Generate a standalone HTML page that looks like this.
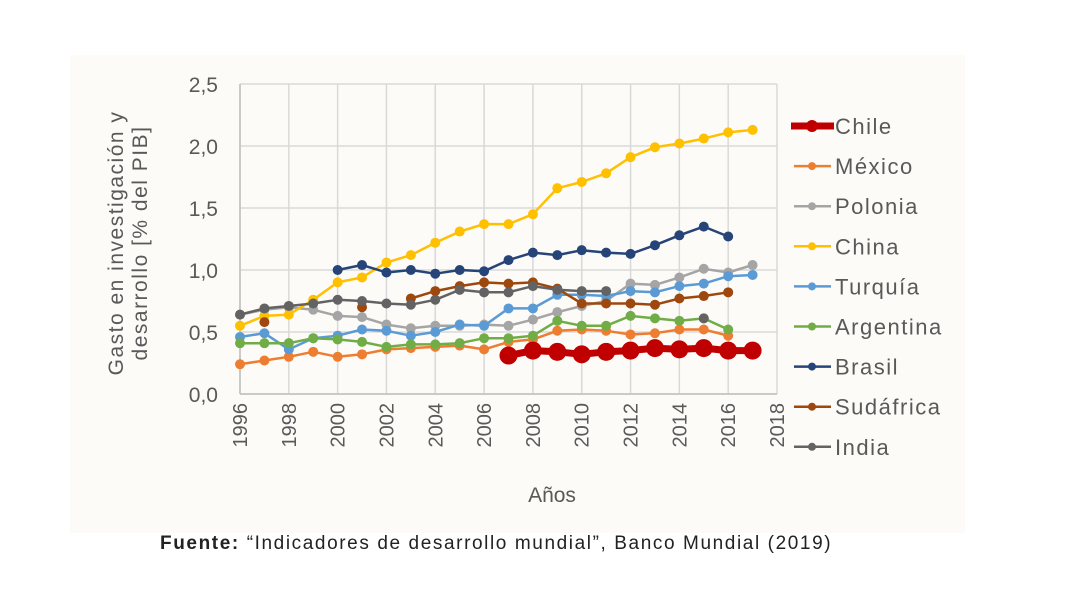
<!DOCTYPE html>
<html><head><meta charset="utf-8">
<style>
html,body{margin:0;padding:0;background:#fff;}
body{width:1080px;height:598px;overflow:hidden;position:relative;font-family:"Liberation Sans",sans-serif;}
#panel{position:absolute;left:70px;top:55px;width:895px;height:478px;background:#fcfbf8;}
</style></head><body>
<div id="panel"></div>
<svg id="chart" width="1080" height="598" style="position:absolute;left:0;top:0"></svg>
<div style="position:absolute;left:160px;top:533px;font-size:19px;letter-spacing:1.6px;color:#222;white-space:nowrap"><b>Fuente:</b> “Indicadores de desarrollo mundial”, Banco Mundial (2019)</div>
<script>
const years = [1996,1997,1998,1999,2000,2001,2002,2003,2004,2005,2006,2007,2008,2009,2010,2011,2012,2013,2014,2015,2016,2017];
const seriesNames = ["México","Polonia","China","Turquía","Argentina","Brasil","Sudáfrica","India","Chile"];
const mexico   = [0.24,0.27,0.30,0.34,0.30,0.32,0.36,0.37,0.38,0.39,0.36,0.42,0.44,0.51,0.52,0.51,0.48,0.49,0.52,0.52,0.47,null];
const polonia  = [0.64,0.68,0.70,0.68,0.63,0.62,0.56,0.53,0.55,0.55,0.56,0.55,0.60,0.66,0.71,0.75,0.89,0.88,0.94,1.01,0.98,1.04];
const china    = [0.55,0.63,0.64,0.76,0.90,0.94,1.06,1.12,1.22,1.31,1.37,1.37,1.45,1.66,1.71,1.78,1.91,1.99,2.02,2.06,2.11,2.13];
const turquia  = [0.46,0.49,0.36,0.45,0.47,0.52,0.51,0.47,0.50,0.56,0.55,0.69,0.69,0.80,0.80,0.79,0.83,0.82,0.87,0.89,0.95,0.96];
const argentina= [0.41,0.41,0.41,0.45,0.44,0.42,0.38,0.40,0.40,0.41,0.45,0.45,0.47,0.59,0.55,0.55,0.63,0.61,0.59,0.61,0.52,null];
const brasil   = [null,null,null,null,1.00,1.04,0.98,1.00,0.97,1.00,0.99,1.08,1.14,1.12,1.16,1.14,1.13,1.20,1.28,1.35,1.27,null];
const sudafrica= [null,0.58,null,null,null,0.70,null,0.77,0.83,0.87,0.90,0.89,0.90,0.85,0.73,0.73,0.73,0.72,0.77,0.79,0.82,null];
const india    = [0.64,0.69,0.71,0.73,0.76,0.75,0.73,0.72,0.76,0.84,0.82,0.82,0.87,0.84,0.83,0.83,null,null,null,0.61,null,null];
const chile    = [null,null,null,null,null,null,null,null,null,null,null,0.31,0.35,0.34,0.32,0.34,0.35,0.37,0.36,0.37,0.35,0.35];
const yTicks = ["0,0","0,5","1,0","1,5","2,0","2,5"];
const xTicks = [1996,1998,2000,2002,2004,2006,2008,2010,2012,2014,2016,2018];

const NS="http://www.w3.org/2000/svg";
const svg=document.getElementById('chart');
const X0=240,X1=777,Y0=394,Y1=84;
const xs=y=>X0+(y-1996)*(X1-X0)/22;
const ys=v=>Y0-v*(Y0-Y1)/2.5;
function mk(t,a){const e=document.createElementNS(NS,t);for(const k in a)e.setAttribute(k,a[k]);svg.appendChild(e);return e;}

yTicks.forEach((t,i)=>{
  const g=mk('line',{x1:X0,x2:X1,y1:ys(i*0.5),y2:ys(i*0.5),stroke:'#d9d9d9','stroke-width':1.5});
  
  
  const l=mk('text',{x:218,y:ys(i*0.5)+8,'text-anchor':'end','font-size':21,fill:'#595959'});
  l.textContent=t;
  
  
});
xTicks.forEach(t=>{
  const g=mk('line',{x1:xs(t),x2:xs(t),y1:Y1,y2:Y0,stroke:'#d9d9d9','stroke-width':1.5});
  
  
  const l=mk('text',{x:0,y:0,'text-anchor':'end','font-size':20,fill:'#595959',transform:`translate(${xs(t)+7},403) rotate(-90)`});
  l.textContent=t;
  
  
});
mk('line',{x1:X0,x2:X0,y1:Y1,y2:Y0,stroke:'#bfbfbf','stroke-width':1.5});
mk('line',{x1:X0,x2:X1,y1:Y0,y2:Y0,stroke:'#bfbfbf','stroke-width':1.5});

const t1=mk('text',{transform:'translate(123,243) rotate(-90)','text-anchor':'middle','font-size':21,'letter-spacing':1.5,fill:'#595959'});
t1.textContent='Gasto en investigación y';


const t2=mk('text',{transform:'translate(147,243) rotate(-90)','text-anchor':'middle','font-size':21,'letter-spacing':1.5,fill:'#595959'});
t2.textContent='desarrollo [% del PIB]';


const xt=mk('text',{x:552,y:502,'text-anchor':'middle','font-size':21,fill:'#595959'});
xt.textContent='Años';



const colors={"México":"#ed7d31","Polonia":"#a5a5a5","China":"#ffc000","Turquía":"#5b9bd5","Argentina":"#70ad47","Brasil":"#264478","Sudáfrica":"#9e480e","India":"#636363","Chile":"#c00000"};
const data={"México":mexico,"Polonia":polonia,"China":china,"Turquía":turquia,"Argentina":argentina,"Brasil":brasil,"Sudáfrica":sudafrica,"India":india,"Chile":chile};

seriesNames.forEach(n=>{
  const vals=data[n],c=colors[n],big=n==="Chile";
  let d='',pen=false;
  vals.forEach((v,i)=>{
    if(v==null){pen=false;return;}
    d+=(pen?'L':'M')+xs(years[i]).toFixed(1)+' '+ys(v).toFixed(1)+' ';pen=true;
  });
  const p=mk('path',{d:d,fill:'none',stroke:c,'stroke-width':big?7:2.5,'stroke-linejoin':'round'});
  
  
  vals.forEach((v,i)=>{
    if(v==null)return;
    const m=mk('circle',{cx:xs(years[i]),cy:ys(v),r:big?9:5,fill:c});
    
    
  });
});

const legendOrder=["Chile","México","Polonia","China","Turquía","Argentina","Brasil","Sudáfrica","India"];
legendOrder.forEach((n,i)=>{
  const y=126+i*40.1,c=colors[n],big=n==="Chile";
  const g=document.createElementNS(NS,'g');svg.appendChild(g);
  
  
  const l=document.createElementNS(NS,'line');
  [['x1',big?791:794],['x2',big?834:831],['y1',y],['y2',y],['stroke',c],['stroke-width',big?7:2.5]].forEach(a=>l.setAttribute(a[0],a[1]));
  g.appendChild(l);
  const cc=document.createElementNS(NS,'circle');
  [['cx',812],['cy',y],['r',big?6:4],['fill',c]].forEach(a=>cc.setAttribute(a[0],a[1]));
  g.appendChild(cc);
  const t=document.createElementNS(NS,'text');
  [['x',835],['y',y+8],['font-size',22],['letter-spacing',1.5],['fill','#595959']].forEach(a=>t.setAttribute(a[0],a[1]));
  t.textContent=n;g.appendChild(t);
});
</script>
</body></html>
